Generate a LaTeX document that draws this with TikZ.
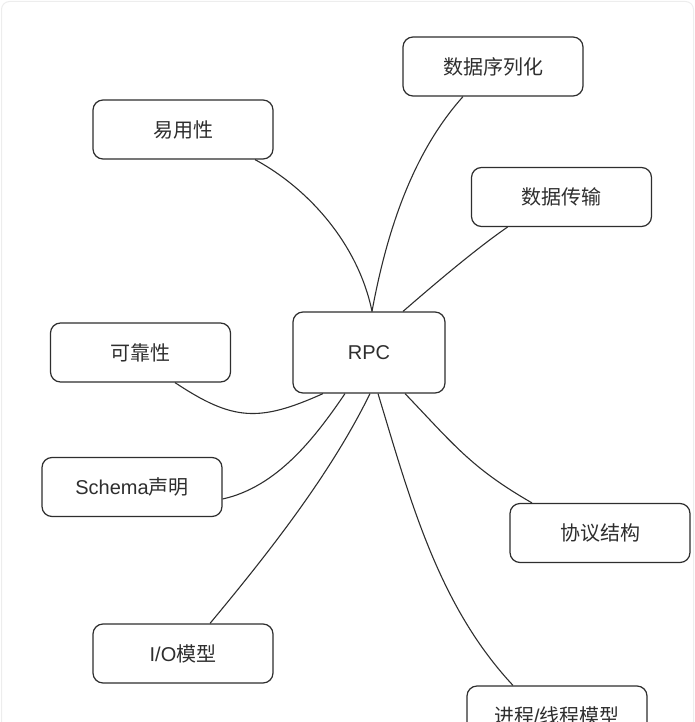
\documentclass[tikz,border=0pt]{standalone}
\usepackage{fontspec}
\setmainfont{Liberation Sans}
\newfontfamily\cjk{Noto Sans CJK SC}
\usetikzlibrary{calc}
\definecolor{ink}{HTML}{2E2E2E}

\tikzset{
	topic/.style = {draw = ink, line width = 1.2pt, rounded corners = 10pt, fill = white,
		minimum width = 180pt, minimum height = 59pt, inner sep = 0pt,
		text = ink, font = \fontsize{20}{24}\selectfont},
	core/.style = {topic, minimum width = 152pt, minimum height = 81pt},
	link/.style = {draw = ink, line width = 1.1pt}
}

\begin{document}
\begin{tikzpicture}[x = 1pt, y = -1pt]
		\useasboundingbox (0,0) rectangle (695,722);
		%faint frame of the page
		\draw[black!7, line width = 1pt, rounded corners = 8pt] (1.5,1.5) rectangle (693.5,760);
		%topics round the centre
		\node[core] (rpc) at (369,352.5) {RPC};
		\node[topic] (sers) at (493,66.5) {\cjk 数据序列化};
		\node[topic] (ease) at (183,129.5) {\cjk 易用性};
		\node[topic] (trans) at (561.5,197) {\cjk 数据传输};
		\node[topic] (rel) at (140.5,352.5) {\cjk 可靠性};
		\node[topic] (schema) at (132,487) {Schema{\cjk 声明}};
		\node[topic] (proto) at (600,533) {\cjk 协议结构};
		\node[topic] (io) at (183,653.5) {I/O{\cjk 模型}};
		\node[topic] (proc) at (557,715.5) {{\cjk 进程}/{\cjk 线程模型}};
		%branches
		\draw[link] ($(ease.south)+(72,0)$) .. controls +(57,31) and +(-13,-64) .. ($(rpc.north)+(3,0)$);
		\draw[link] ($(sers.south)+(-30,0)$) .. controls +(-52,58) and +(14,-76) .. ($(rpc.north)+(3,0)$);
		\draw[link] ($(trans.south)+(-54,0)$) .. controls +(-32,22) and +(30,-26) .. ($(rpc.north)+(34,0)$);
		\draw[link] ($(rel.south)+(34.5,0)$) .. controls +(58,38.5) and +(-64,28.7) .. ($(rpc.south)+(-46,0)$);
		\draw[link] ($(schema.east)+(0,12)$) .. controls +(54,-12) and +(-31,45.6) .. ($(rpc.south)+(-24,0)$);
		\draw[link] ($(io.north)+(27,0)$) .. controls +(57.6,-69.3) and +(-39.6,81) .. ($(rpc.south)+(1,0)$);
		\draw[link] ($(proc.north)+(-44,0)$) .. controls +(-75,-80.3) and +(32,105.6) .. ($(rpc.south)+(9,0)$);
		\draw[link] ($(proto.north)+(-68,0)$) .. controls +(-61,-35) and +(48.3,50.4) .. ($(rpc.south)+(36,0)$);
\end{tikzpicture}
\end{document}
